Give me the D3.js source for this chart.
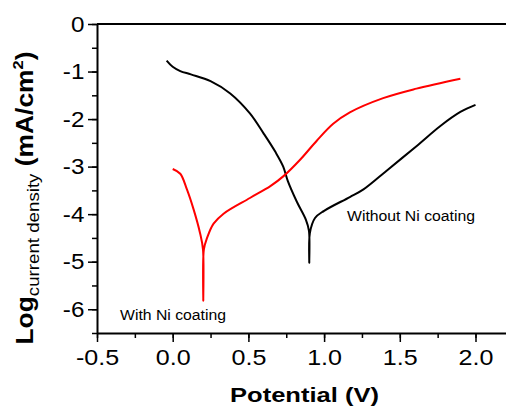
<!DOCTYPE html>
<html>
<head>
<meta charset="utf-8">
<script src="https://cdn.jsdelivr.net/npm/d3@7"></script>
<style>
  body { margin: 0; background: #fff; }
  svg { display: block; font-family: Arial, "Liberation Sans", sans-serif; }
</style>
</head>
<body>
<svg id="chart" width="506" height="410"></svg>
<script>
// Without Ni coating (black) - [potential V, log current density]
const withoutNi = [
  [-0.04, -0.77], [0.0, -0.9], [0.05, -0.99], [0.12, -1.06], [0.25, -1.2],
  [0.38, -1.46], [0.51, -1.88], [0.6, -2.3], [0.68, -2.7], [0.73, -3.0],
  [0.76, -3.3], [0.82, -3.74], [0.88, -4.12], [0.9, -4.35], [0.902, -5.02],
  [0.906, -4.4], [0.94, -4.08], [1.0, -3.93], [1.17, -3.64], [1.26, -3.48],
  [1.415, -3.08], [1.61, -2.57], [1.77, -2.14], [1.9, -1.85], [2.0, -1.7]
];
// With Ni coating (red)
const withNi = [
  [0.0, -3.05], [0.05, -3.15], [0.094, -3.48], [0.138, -3.9], [0.18, -4.39],
  [0.2, -4.74], [0.202, -5.82], [0.206, -4.74], [0.227, -4.5], [0.27, -4.2],
  [0.336, -3.99], [0.51, -3.66], [0.645, -3.41], [0.732, -3.2], [0.843, -2.85],
  [0.953, -2.45], [1.06, -2.1], [1.17, -1.86], [1.39, -1.56], [1.61, -1.36],
  [1.9, -1.15]
];
const xTicks = [-0.5, 0.0, 0.5, 1.0, 1.5, 2.0];
const yTicks = [0, -1, -2, -3, -4, -5, -6];

const svg = d3.select("#chart");
const x = d3.scaleLinear().domain([-0.5, 2.25]).range([97, 97 + 2.75 * 151.4]);
const y = d3.scaleLinear().domain([-6.5, 0]).range([333, 24]);
const fmtX = d => d3.format(".1f")(d).replace("\u2212", "-");
const fmtY = d => d3.format("d")(d).replace("\u2212", "-");

// minor ticks
const xMinor = d3.range(-0.5, 2.26, 0.25);
const yMinor = d3.range(-6.5, 0.01, 0.5);

svg.append("g")
  .attr("transform", "translate(0,333)")
  .call(d3.axisBottom(x).tickValues(xMinor).tickSize(5).tickFormat(""))
  .call(g => g.select(".domain").remove())
  .selectAll("line").attr("stroke-width", 1.5);
svg.append("g")
  .attr("transform", "translate(97,0)")
  .call(d3.axisLeft(y).tickValues(yMinor).tickSize(5).tickFormat(""))
  .call(g => g.select(".domain").remove())
  .selectAll("line").attr("stroke-width", 1.5);

const xAxis = svg.append("g")
  .attr("transform", "translate(0,333)")
  .call(d3.axisBottom(x).tickValues(xTicks).tickSize(9).tickSizeOuter(0).tickFormat(fmtX));
xAxis.select(".domain").attr("stroke-width", 2);
xAxis.selectAll("line").attr("stroke-width", 1.5);
xAxis.selectAll("text").attr("font-size", 22).attr("y", 0).attr("dy", 32)
  .attr("transform", "scale(1.14,1)")
  .attr("font-family", "Arial, 'Liberation Sans', sans-serif");

const yAxis = svg.append("g")
  .attr("transform", "translate(97,0)")
  .call(d3.axisLeft(y).tickValues(yTicks).tickSize(9).tickSizeOuter(0).tickFormat(fmtY));
yAxis.select(".domain").attr("stroke-width", 2);
yAxis.selectAll("line").attr("stroke-width", 1.5);
yAxis.selectAll("text").attr("font-size", 22).attr("x", -11.5)
  .attr("transform", "scale(1.1,1)")
  .attr("font-family", "Arial, 'Liberation Sans', sans-serif");

// top frame line
svg.append("line")
  .attr("x1", 97).attr("x2", 506).attr("y1", 24).attr("y2", 24)
  .attr("stroke", "#000").attr("stroke-width", 2);

const line = d3.line().x(d => x(d[0])).y(d => y(d[1])).curve(d3.curveCatmullRom.alpha(0.5));

svg.append("path").datum(withoutNi)
  .attr("d", line).attr("fill", "none").attr("stroke", "#000")
  .attr("stroke-width", 2).attr("stroke-linejoin", "round");
svg.append("path").datum(withNi)
  .attr("d", line).attr("fill", "none").attr("stroke", "#ff0000")
  .attr("stroke-width", 2).attr("stroke-linejoin", "round");

svg.append("text").attr("x", 347).attr("y", 221)
  .attr("font-size", 14).attr("textLength", 128).attr("lengthAdjust", "spacingAndGlyphs")
  .text("Without Ni coating");
svg.append("text").attr("x", 120).attr("y", 320)
  .attr("font-size", 14).attr("textLength", 106).attr("lengthAdjust", "spacingAndGlyphs")
  .text("With Ni coating");

svg.append("text").attr("x", 230).attr("y", 402)
  .attr("font-size", 21).attr("font-weight", "bold")
  .attr("textLength", 149).attr("lengthAdjust", "spacingAndGlyphs")
  .text("Potential (V)");

const yt = svg.append("text")
  .attr("transform", "translate(33,198) rotate(-90) scale(1.1,1)")
  .attr("text-anchor", "middle").attr("font-size", 24).attr("font-weight", "bold");
yt.append("tspan").text("Log");
yt.append("tspan").attr("font-size", 17).attr("font-weight", "normal").attr("dy", 6).text("current density");
yt.append("tspan").attr("dy", -6).text(" (mA/cm");
yt.append("tspan").attr("font-size", 15).attr("dy", -10).text("2");
yt.append("tspan").attr("dy", 10).text(")");
</script>
</body>
</html>
